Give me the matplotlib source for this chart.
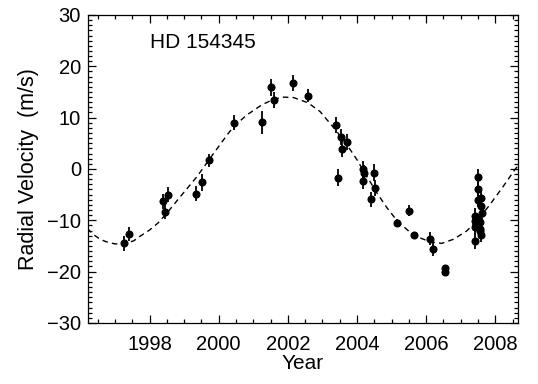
import numpy as np
import matplotlib
matplotlib.use("Agg")
import matplotlib.pyplot as plt
from matplotlib.ticker import MultipleLocator

year = [1997.25, 1997.41, 1998.38, 1998.45, 1998.54, 1999.35, 1999.51, 1999.71,
        2000.44, 2001.25, 2001.51, 2001.60, 2002.16, 2002.58,
        2003.38, 2003.46, 2003.53, 2003.58, 2003.70,
        2004.18, 2004.19, 2004.18, 2004.41, 2004.48, 2004.52,
        2005.16, 2005.50, 2005.64, 2006.11, 2006.21, 2006.54, 2006.54,
        2007.49, 2007.49, 2007.50, 2007.58, 2007.58, 2007.62, 2007.41, 2007.41,
        2007.41, 2007.41, 2007.56, 2007.56, 2007.58, 2007.56]
rv = [-14.5, -12.7, -6.3, -8.3, -5.0, -4.8, -2.6, 1.7,
      9.0, 9.1, 15.9, 13.4, 16.8, 14.3,
      8.6, -1.7, 6.2, 3.9, 5.2,
      -0.1, -0.8, -2.3, -5.9, -0.7, -3.7,
      -10.5, -8.1, -12.9, -13.6, -15.5, -19.3, -20.0,
      -1.6, -3.9, -6.1, -5.6, -7.2, -8.5, -9.2, -10.1,
      -11.4, -14.0, -10.4, -11.7, -12.9, -12.1]
rv_err = [1.5, 1.4, 1.5, 1.4, 1.5, 1.5, 1.6, 1.3,
          1.5, 2.2, 1.6, 1.6, 1.6, 1.3,
          1.6, 1.6, 1.6, 1.5, 1.6,
          1.6, 1.5, 1.6, 1.5, 1.6, 1.5,
          0.8, 1.0, 0.6, 1.3, 1.5, 0.5, 0.5,
          1.5, 1.4, 1.4, 1.4, 1.4, 1.3, 1.5, 1.4,
          1.4, 1.6, 1.4, 1.4, 1.4, 1.4]

# orbit fit curve
fit_year = [1996.2, 1996.4, 1996.6, 1996.8, 1997.0, 1997.25, 1997.54, 1997.75,
            1998.0, 1998.25, 1998.5, 1998.89, 1999.37, 1999.85, 2000.24,
            2000.44, 2000.81, 2001.25, 2001.6, 2001.88, 2002.17, 2002.58,
            2002.93, 2003.38, 2003.71, 2004.0, 2004.28, 2004.57, 2004.86,
            2005.16, 2005.63, 2006.11, 2006.45, 2006.79, 2007.17, 2007.51,
            2007.85, 2008.23, 2008.57, 2008.7]
fit_rv = [-11.6, -12.9, -13.8, -14.3, -14.6, -14.6, -14.0, -13.0,
          -11.9, -10.5, -8.6, -5.4, -1.5, 3.0, 6.6,
          8.3, 10.5, 12.5, 13.6, 14.0, 13.9, 12.9,
          11.2, 7.6, 4.7, 1.8, -1.4, -4.6, -7.5,
          -10.1, -12.9, -14.2, -14.5, -13.7, -12.1, -9.8,
          -6.9, -3.4, -0.1, 1.0]

plt.rcParams["font.family"] = ["Liberation Sans", "DejaVu Sans"]

fig = plt.figure(figsize=(5.38, 3.84), dpi=100)
ax = fig.add_axes([0.1636, 0.159, 0.7994, 0.802])

ax.plot(fit_year, fit_rv, color="black", linestyle=(0, (4, 3)), linewidth=1.0)
ax.errorbar(year, rv, yerr=rv_err, fmt="o", color="black", markersize=4.8,
            elinewidth=1.3, capsize=0)

ax.set_xlim(1996.22, 2008.66)
ax.set_ylim(-30, 30)
ax.set_yticks([-30, -20, -10, 0, 10, 20, 30])
ax.set_xticks([1998, 2000, 2002, 2004, 2006, 2008])
ax.xaxis.set_minor_locator(MultipleLocator(0.5))
ax.yaxis.set_minor_locator(MultipleLocator(1))
ax.tick_params(which="both", direction="in", top=True, right=True, labelsize=14.5, width=0.9)
ax.tick_params(which="major", length=6)
ax.tick_params(which="minor", length=3)
ax.tick_params(axis="x", pad=9)
ax.tick_params(axis="y", pad=5)
for s in ax.spines.values():
    s.set_linewidth(0.9)

ax.set_xlabel("Year", fontsize=15, labelpad=0)
ax.set_ylabel("Radial Velocity  (m/s)", fontsize=15.5, labelpad=6)
ax.text(1998.0, 24.7, "HD 154345", fontsize=15, va="center", ha="left")

fig.savefig("out.png", dpi=100)
